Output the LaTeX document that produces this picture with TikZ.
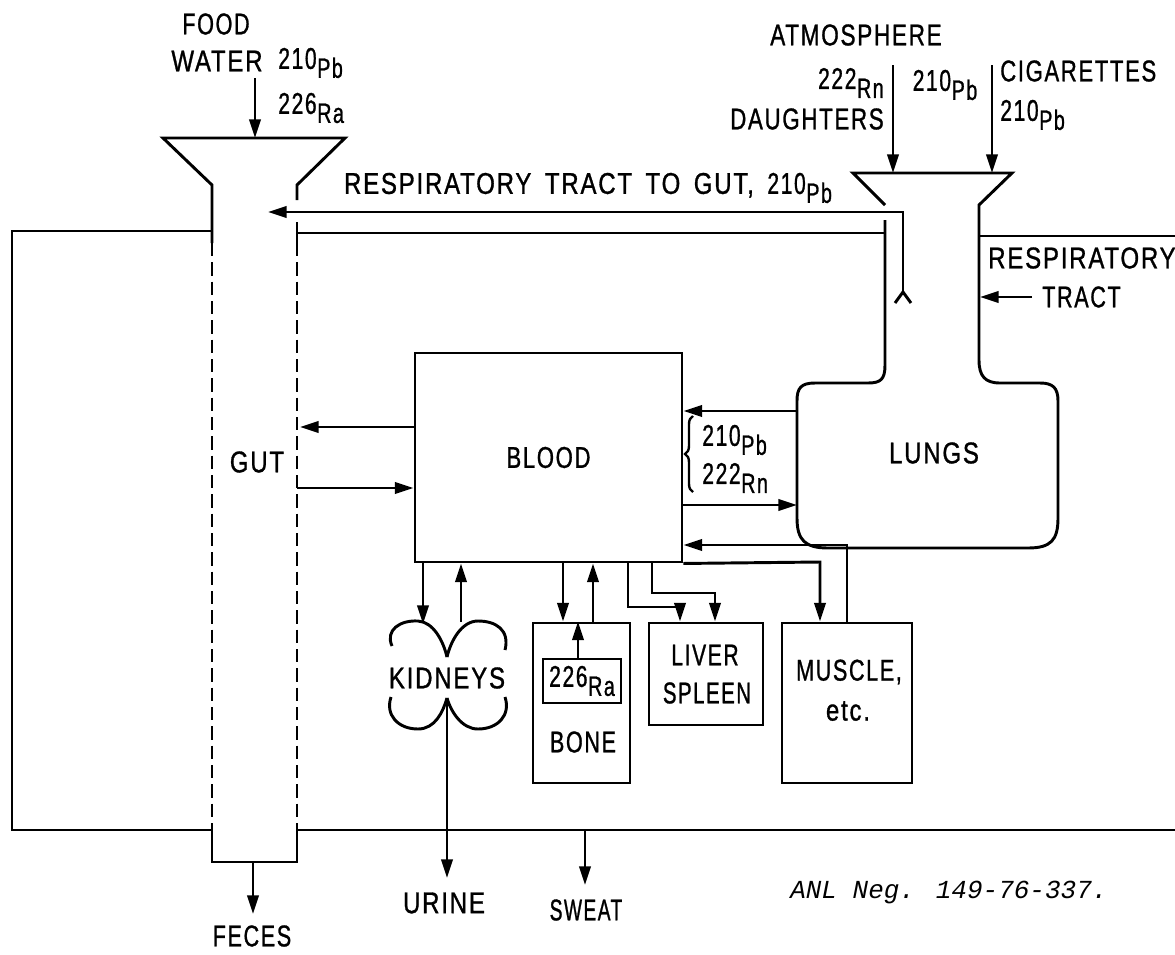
\documentclass[tikz,border=0pt]{standalone}
\usepackage{fontspec}
\setmainfont{Liberation Sans}[FakeStretch=0.8,LetterSpace=6,FakeBold=1]
\newfontfamily\anlfont{Liberation Mono}
\usetikzlibrary{arrows.meta,fit,decorations.pathreplacing,calc}
\newcommand\iso[2]{\scalebox{0.88}[1]{#1\kern0.5pt\raisebox{-0.3em}{\fontsize{21}{21}\selectfont #2}}}
\newcommand\nar[2]{\scalebox{#1}[1]{#2}}
\tikzset{
  ln/.style={line width=2.2pt},
  arr/.style={ln,-{Triangle[length=14pt,width=8.5pt]}},
  lbl/.style={font=\fontsize{22.5}{25}\selectfont, inner sep=0pt},
  boxfit/.style={draw, ln, inner sep=0pt},
  gutwall/.style={ln, dash pattern=on 10pt off 4.5pt}
}
\begin{document}
\begin{tikzpicture}[x=0.75pt,y=-0.75pt]
\useasboundingbox (0,0) rectangle (1175,954);

% ---- body outline
\draw[ln] (213,231) -- (12,231) -- (12,830) -- (213,830);
\draw[ln] (297,830) -- (1175,830);
\draw[ln] (297,233) -- (885,233);
\draw[ln] (979,236) -- (1175,236);

% ---- gut
\draw[ln] (212,243) -- (212,185) -- (163,138) -- (345,138) -- (297,185) -- (297,200);
\draw[ln] (297,222) -- (297,243);
\draw[gutwall] (212,243) -- (212,830);
\draw[gutwall] (297,243) -- (297,830);
\draw[ln] (212,830) -- (212,862) -- (297,862) -- (297,830);
\node[lbl] (gut) at (257,462) {GUT};
\coordinate (guttop) at (255,138);
\coordinate (gutbot) at (253,862);
\coordinate (gutin) at (268,212);

% ---- food / water
\node[lbl] (food) at (216,24) {\nar{0.9}{FOOD}};
\node[lbl] (water) at (217,61) {WATER};
\node[lbl,anchor=west] (fpb) at (278,63) {\iso{210}{Pb}};
\node[lbl,anchor=west] (fra) at (278,108) {\iso{226}{Ra}};
\coordinate (foodin) at (255,78);
\draw[arr] (foodin) -- (guttop);

% ---- feces
\node[lbl] (feces) at (252,936) {\nar{0.9}{FECES}};
\draw[arr] (gutbot) -- ($(gutbot)+(0,52)$);

% ---- lungs
\draw[ln] (885,220) -- (885,365) .. controls (885,379) and (881,383) .. (868,383)
  -- (815,383) .. controls (801,383) and (797,388) .. (797,401)
  -- (797,518) .. controls (797,540) and (805,548) .. (828,548)
  -- (1028,548) .. controls (1051,548) and (1058,540) .. (1058,518)
  -- (1058,401) .. controls (1058,388) and (1053,383) .. (1040,383)
  -- (1000,383) .. controls (985,383) and (979,376) .. (979,360)
  -- (979,205) -- (1012,173) -- (853,173) -- (885,205);
\node[lbl] (lungs) at (934,453) {LUNGS};
\coordinate (lungL) at (797,457);
\coordinate (rnin) at (893,65);
\coordinate (cigin) at (992,65);
\draw[arr] (rnin) -- (893,173);
\draw[arr] (cigin) -- (992,173);

\node[lbl] (atmos) at (856,35) {\nar{0.94}{ATMOSPHERE}};
\node[lbl,anchor=east] (rn) at (884,83) {\iso{222}{Rn}};
\node[lbl,anchor=east] (daught) at (884,119) {\nar{0.93}{DAUGHTERS}};
\node[lbl] (apb) at (945,85) {\iso{210}{Pb}};
\node[lbl,anchor=west] (cig) at (1000,71) {\nar{0.92}{CIGARETTES}};
\node[lbl,anchor=west] (cpb) at (1000,115) {\iso{210}{Pb}};

% ---- respiratory tract to gut
\coordinate (fork) at (903,292);
\draw[ln] (895,303) -- (fork) -- (911,303);
\draw[arr] (fork) -- (903,212) -- (gutin);
\node[lbl] (rtg) at (588,188) {RESPIRATORY\hspace{0.45em}TRACT\hspace{0.45em}TO\hspace{0.45em}GUT,\hspace{0.45em}\iso{210}{Pb}};

\node[lbl,anchor=west] (resp) at (988,258) {RESPIRATORY};
\node[lbl,anchor=west] (tract) at (1042,297) {\nar{0.9}{TRACT}};
\draw[arr] ($(tract.west)+(-10,0)$) -- (980,297);

% ---- blood
\node[boxfit, fit={(415,353) (682,562)}] (blood) {};
\node[lbl] (bloodlbl) at (blood.center) {\nar{0.92}{BLOOD}};
\draw[arr] (blood.west |- 0,427) -- (300,427);
\draw[arr] (297,488) -- (blood.west |- 0,488);
\draw[arr] (lungL |- 0,411) -- (blood.east |- 0,411);
\draw[arr] (blood.east |- 0,505) -- (lungL |- 0,505);
\draw[line width=1.8pt, decorate, decoration={brace, amplitude=6pt}] (693,492) -- (693,416);
\node[lbl,anchor=west] (bpb) at (702,440) {\iso{210}{Pb}};
\node[lbl,anchor=west] (brn) at (702,478) {\iso{222}{Rn}};

% ---- kidneys
\coordinate (kidtop) at (447,657);
\coordinate (kidbot) at (447,698);
\draw[ln] (392,646) .. controls (385,630) and (400,620) .. (418,621) .. controls (433,622) and (443,640) .. (kidtop);
\draw[ln] (kidtop) .. controls (451,640) and (462,621) .. (478,621) .. controls (496,621) and (510,630) .. (505,650);
\draw[ln] (391,697) .. controls (385,715) and (398,729) .. (418,729) .. controls (435,729) and (443,712) .. (kidbot);
\draw[ln] (kidbot) .. controls (451,712) and (462,729) .. (478,729) .. controls (498,729) and (511,715) .. (505,697);
\node[lbl] (kidneys) at (447,678) {KIDNEYS};
\draw[arr] (blood.south -| 423,0) -- (423,624);
\draw[arr] (461,622) -- (blood.south -| 461,0);
\node[lbl] (urine) at (444,903) {URINE};
\draw[arr] (kidbot) -- ($(kidbot)+(0,180)$);

% ---- bone
\node[boxfit, fit={(533,623) (630,783)}] (bone) {};
\node[boxfit, fit={(543,659) (621,703)}] (ra) {};
\node[lbl] (ralbl) at (ra.center) {\iso{226}{Ra}};
\node[lbl] (bonelbl) at (583,742) {\nar{0.9}{BONE}};
\draw[arr] (blood.south -| 563,0) -- (bone.north -| 563,0);
\draw[arr] (bone.north -| 593,0) -- (blood.south -| 593,0);
\draw[arr] (ra.north -| 578,0) -- (bone.north -| 578,0);

% ---- liver / spleen
\node[boxfit, fit={(649,623) (763,725)}] (liver) {};
\node[lbl] (liverlbl) at (705,655) {\nar{0.88}{LIVER}};
\node[lbl] (spleenlbl) at (707,693) {\nar{0.85}{SPLEEN}};
\draw[arr] (blood.south -| 628,0) -- (628,607) -- (680,607) -- (liver.north -| 680,0);
\draw[arr] (blood.south -| 652,0) -- (652,593) -- (715,593) -- (liver.north -| 715,0);

% ---- muscle
\node[boxfit, fit={(782,623) (912,783)}] (muscle) {};
\node[lbl] (musclelbl) at (849,672) {\nar{0.9}{MUSCLE,}};
\node[lbl] (etclbl) at (848,711) {etc.};
\draw[arr] (blood.south east) -- (820,562) -- (muscle.north -| 820,0);
\draw[arr] (muscle.north -| 847,0) -- (847,545) -- (blood.east |- 0,545);

% ---- sweat
\coordinate (sweatsrc) at (585,830);
\node[lbl] (sweat) at (586,910) {\nar{0.8}{SWEAT}};
\draw[arr] (sweatsrc) -- ($(sweatsrc)+(0,55)$);

% ---- reference
\node[font=\anlfont\itshape\fontsize{19.5}{21}\selectfont, anchor=west, inner sep=0pt] (anl) at (790,892) {ANL Neg. 149-76-337.};
\end{tikzpicture}
\end{document}
